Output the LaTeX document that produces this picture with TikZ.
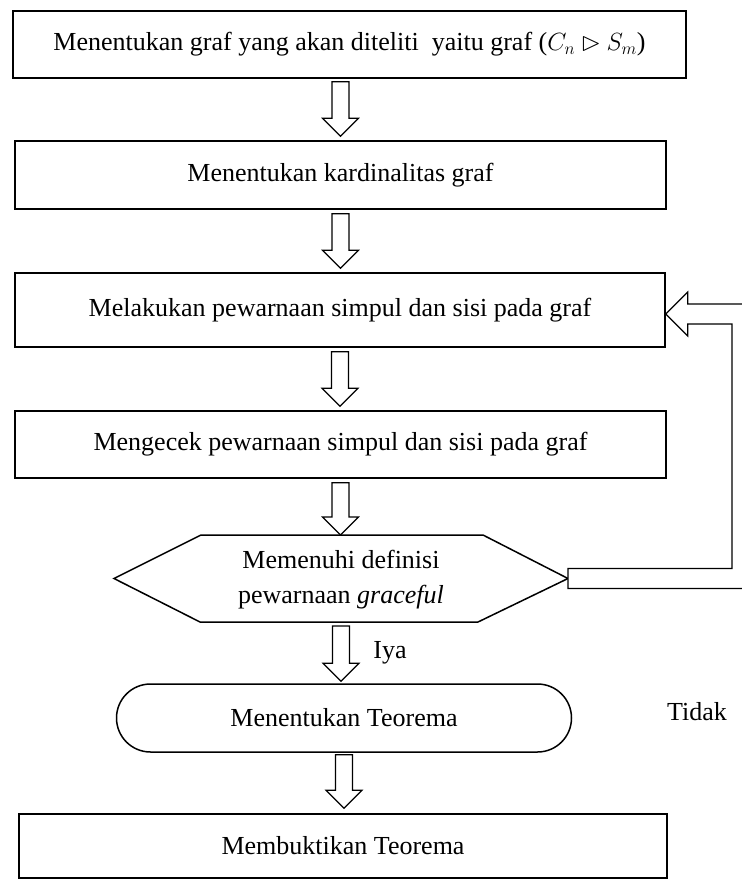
\documentclass[tikz,border=0pt]{standalone}
\usepackage{amssymb}
\usepackage{fontspec}
\setmainfont{Liberation Serif}
\usetikzlibrary{calc}
\newcommand\blockdown[2]{%
  \draw[hollow] let \p1=(#1), \p2=(#2) in
    (\x1-8.5pt,\y1) -- (\x1+8.5pt,\y1) -- (\x1+8.5pt,\y2+18pt) -- (\x1+18pt,\y2+18pt)
    -- (\x1,\y2) -- (\x1-18pt,\y2+18pt) -- (\x1-8.5pt,\y2+18pt) -- cycle;}
\begin{document}
\begin{tikzpicture}[x=1pt,y=-1pt,
  every node/.style={font=\fontsize{26}{35}\selectfont},
  boxnode/.style={draw, line width=1.5pt, rectangle, inner sep=0pt, align=center},
  hollow/.style={draw, line width=1.2pt, fill=white, line join=miter},
  plain/.style={inner sep=0pt, align=center}]
\useasboundingbox (0,0) rectangle (742,879);
% nodes
\node[boxnode, minimum width=673pt, minimum height=67pt] (b1) at (349.5,44.5)
  {Menentukan graf yang akan diteliti\ \ yaitu graf ($C_n \rhd S_m$)};
\node[boxnode, minimum width=651pt, minimum height=68pt] (b2) at (340.5,175)
  {Menentukan kardinalitas graf};
\node[boxnode, minimum width=650pt, minimum height=74pt] (b3) at (340,310)
  {Melakukan pewarnaan simpul dan sisi pada graf};
\node[boxnode, minimum width=651pt, minimum height=67pt] (b4) at (340.5,444.5)
  {Mengecek pewarnaan simpul dan sisi pada graf};
\node[plain] (hex) at (341,580) {Memenuhi definisi\\pewarnaan \textit{graceful}};
\coordinate (hexN) at ($(hex)+(0,-45)$);
\coordinate (hexS) at ($(hex)+(0,42)$);
\coordinate (hexE) at ($(hex)+(227,-1.5)$);
\coordinate (hexW) at ($(hex)+(-227,-1.5)$);
\draw[line width=1.5pt, line join=miter] (hexW) -- ($(hex)+(-140,-45)$) -- ($(hex)+(142,-45)$)
  -- (hexE) -- ($(hex)+(137,42)$) -- ($(hex)+(-141,42)$) -- cycle;
\node[boxnode, rounded corners=34pt, minimum width=455pt, minimum height=68pt] (stad) at (344,718)
  {Menentukan Teorema};
\node[boxnode, minimum width=648pt, minimum height=64pt] (b5) at (343,846)
  {Membuktikan Teorema};
\node[plain] (iya) at (390,653) {Iya};
\node[plain] (tidak) at (697,712) {Tidak};
\coordinate (turn) at (742,314);
% down arrows
\blockdown{$(b2.north |- b1.south)+(0,3)$}{$(b2.north)+(0,-4)$}
\blockdown{$(b2.south)+(0,4)$}{$(b3.north)+(0,-4)$}
\blockdown{$(b3.south)+(0,4)$}{$(b4.north)+(0,-4)$}
\blockdown{$(b4.south)+(0,4)$}{hexN}
\blockdown{$(hexS)+(0,4)$}{$(stad.north)+(0,-2)$}
\blockdown{$(stad.south)+(0,2)$}{$(b5.north)+(0,-5)$}
% feedback arrow
\draw[hollow] let \p1=(hexE), \p2=(b3.east), \p3=(turn) in
  (\x1,\y1+10pt) -- (\x3-10pt,\y1+10pt) -- (\x3-10pt,\y3-10pt) -- (\x2+22pt,\y3-10pt)
  -- (\x2+22pt,\y3-22pt) -- (\x2,\y3) -- (\x2+22pt,\y3+22pt) -- (\x2+22pt,\y3+10pt)
  -- (\x3+10pt,\y3+10pt) -- (\x3+10pt,\y1-10pt) -- (\x1,\y1-10pt) -- cycle;
\end{tikzpicture}
\end{document}
